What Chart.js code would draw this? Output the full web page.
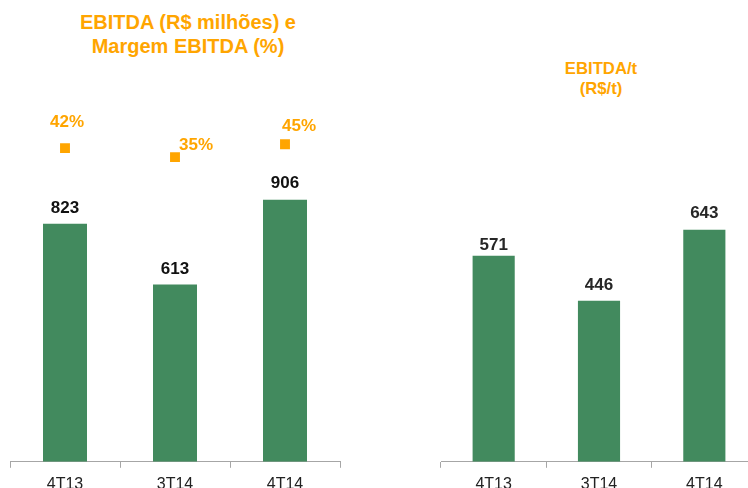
<!DOCTYPE html>
<html lang="pt-BR">
<head>
    <meta charset="UTF-8">
    <title>EBITDA e EBITDA/t</title>
    <script src="https://cdn.jsdelivr.net/npm/chart.js"></script>
    <style>
        html, body {
            margin: 0;
            padding: 0;
            background: #fff;
            overflow: hidden;
        }
        #page {
            position: relative;
            width: 748px;
            height: 488px;
            overflow: hidden;
            font-family: "Liberation Sans", Arial, sans-serif;
        }
        .title {
            position: absolute;
            text-align: center;
            color: #FFA500;
            font-weight: bold;
        }
        #title-left {
            left: 38px;
            top: 10px;
            width: 300px;
            font-size: 20px;
            line-height: 24px;
        }
        #title-right {
            left: 501px;
            top: 59px;
            width: 200px;
            font-size: 16.7px;
            line-height: 20px;
        }
        #box-left {
            position: absolute;
            left: 0;
            top: 0;
            width: 350px;
            height: 501px;
        }
        #box-right {
            position: absolute;
            left: 431px;
            top: 0;
            width: 340px;
            height: 501px;
        }
    </style>
</head>
<body>
<div id="page">
    <div id="title-left" class="title">EBITDA (R$ milhões) e<br>Margem EBITDA (%)</div>
    <div id="title-right" class="title">EBITDA/t<br>(R$/t)</div>
    <div id="box-left"><canvas id="chartLeft"></canvas></div>
    <div id="box-right"><canvas id="chartRight"></canvas></div>
</div>

<script>
    // dados
    const periodos = ["4T13", "3T14", "4T14"];
    const ebitda = [823, 613, 906];          // R$ milhões
    const margemEbitda = [42, 35, 45];       // %
    const ebitdaPorTon = [571, 446, 643];    // R$/t

    const VERDE = "#428A5E";
    const LARANJA = "#FFA500";
    const FONTE = "'Liberation Sans', Arial, sans-serif";

    // desenha os rótulos de valor acima das barras / ao lado dos pontos
    const valueLabels = {
        id: "valueLabels",
        afterDatasetsDraw(chart, args, opts) {
            const ctx = chart.ctx;
            (opts.sets || []).forEach(cfg => {
                const meta = chart.getDatasetMeta(cfg.index);
                const ds = chart.data.datasets[cfg.index];
                ctx.save();
                ctx.font = "bold " + cfg.size + "px " + FONTE;
                ctx.fillStyle = cfg.color;
                ctx.textAlign = "center";
                ctx.textBaseline = "middle";
                meta.data.forEach((el, i) => {
                    const txt = ds.data[i] + (cfg.suffix || "");
                    ctx.fillText(txt, el.x + cfg.dx[i], el.y + cfg.dy[i]);
                });
                ctx.restore();
            });
        }
    };

    function eixoX() {
        return {
            offset: true,
            grid: {
                display: true,
                offset: true,
                drawOnChartArea: false,
                drawTicks: true,
                tickLength: 6,
                color: "#A6A6A6"
            },
            border: { display: true, color: "#A6A6A6", width: 1 },
            ticks: {
                color: "#222",
                padding: 7,
                font: { family: FONTE, size: 16 }
            }
        };
    }

    Chart.register(valueLabels);

    new Chart(document.getElementById("chartLeft"), {
        type: "bar",
        data: {
            labels: periodos,
            datasets: [
                {
                    type: "line",
                    label: "Margem EBITDA (%)",
                    data: margemEbitda,
                    yAxisID: "y2",
                    showLine: false,
                    pointStyle: "rect",
                    pointRadius: 7,
                    pointHoverRadius: 7,
                    pointBorderWidth: 0,
                    pointBackgroundColor: LARANJA,
                    borderColor: LARANJA
                },
                {
                    label: "EBITDA (R$ milhões)",
                    data: ebitda,
                    yAxisID: "y",
                    backgroundColor: VERDE,
                    barPercentage: 0.4,
                    categoryPercentage: 1.0
                }
            ]
        },
        options: {
            responsive: true,
            maintainAspectRatio: false,
            animation: false,
            layout: { padding: { top: 80, left: 10, right: 10, bottom: 0 } },
            plugins: {
                legend: { display: false },
                tooltip: { enabled: false },
                valueLabels: {
                    sets: [
                        { index: 1, size: 17, color: "#111", dx: [0, 0, 0], dy: [-15, -15, -16] },
                        { index: 0, size: 17, color: LARANJA, suffix: "%", dx: [2, 21, 14], dy: [-26, -12, -18] }
                    ]
                }
            },
            scales: {
                x: eixoX(),
                y: { display: false, min: 0, max: 1320 },
                y2: { display: false, min: -202, max: 95 }
            }
        }
    });

    new Chart(document.getElementById("chartRight"), {
        type: "bar",
        data: {
            labels: periodos,
            datasets: [
                {
                    label: "EBITDA/t (R$/t)",
                    data: ebitdaPorTon,
                    backgroundColor: VERDE,
                    barPercentage: 0.4,
                    categoryPercentage: 1.0
                }
            ]
        },
        options: {
            responsive: true,
            maintainAspectRatio: false,
            animation: false,
            layout: { padding: { top: 110, left: 10, right: 14, bottom: 0 } },
            plugins: {
                legend: { display: false },
                tooltip: { enabled: false },
                valueLabels: {
                    sets: [
                        { index: 0, size: 17, color: "#262626", dx: [0, 0, 0], dy: [-10, -16, -16] }
                    ]
                }
            },
            scales: {
                x: eixoX(),
                y: { display: false, min: 0, max: 975 }
            }
        }
    });
</script>
</body>
</html>
